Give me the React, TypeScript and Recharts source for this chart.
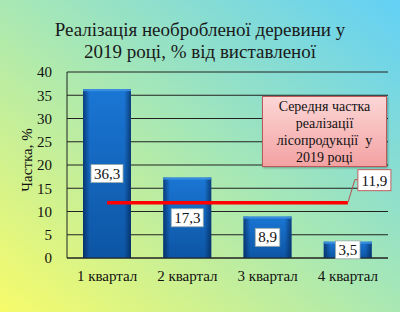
import {
	Bar,
	ComposedChart,
	LabelList,
	Line,
	XAxis,
	YAxis,
	CartesianGrid,
} from "recharts";

const quarters = ["1 квартал", "2 квартал", "3 квартал", "4 квартал"];
const shares = [36.3, 17.3, 8.9, 3.5];
const average = [11.9, 11.9, 11.9, 11.9];
const yTicks = [0, 5, 10, 15, 20, 25, 30, 35, 40];

const data = quarters.map((q, i) => ({
	name: q,
	share: shares[i],
	avg: average[i],
}));

const FONT = '"Liberation Serif", serif';
const fmt = (v: number) => String(v).replace(".", ",");

const BarShape = (props: any) => {
	const { x, y, width, height } = props;
	return (
		<g>
			<rect x={x} y={y} width={width} height={height} fill="url(#barFill)" />
			<rect x={x} y={y} width={width} height={height} fill="url(#barEdge)" />
			<rect x={x} y={y} width={width} height={2} fill="#3a8ee0" />
		</g>
	);
};

const BarValue = (props: any) => {
	const { x, y, width, height, value } = props;
	const cx = x + width / 2;
	const cy = y + height / 2;
	const text = fmt(value);
	const w = text.length * 7.5 + 2;
	return (
		<g>
			<rect
				x={cx - w / 2}
				y={cy - 9}
				width={w}
				height={18}
				fill="#fff"
				stroke="#9aa"
				strokeWidth={0.8}
			/>
			<text
				x={cx}
				y={cy + 5}
				textAnchor="middle"
				style={{ fontFamily: FONT, fontSize: 15 }}
				fill="#111"
			>
				{text}
			</text>
		</g>
	);
};

const AvgValue = (props: any) => {
	const { x, y, value, index } = props;
	if (index !== quarters.length - 1) return null;
	const text = fmt(value);
	const bx = x + 10;
	const by = y - 33;
	return (
		<g>
			<polyline
				points={`${x},${y} ${x + 7},${y - 23} ${bx},${y - 23}`}
				fill="none"
				stroke="#b05050"
				strokeWidth={1}
			/>
			<rect
				x={bx}
				y={by}
				width={33}
				height={21}
				fill="#fff"
				stroke="#c06060"
				strokeWidth={1}
			/>
			<text
				x={bx + 16.5}
				y={by + 16}
				textAnchor="middle"
				style={{ fontFamily: FONT, fontSize: 15 }}
				fill="#111"
			>
				{text}
			</text>
		</g>
	);
};

const AxisTitle = (props: any) => {
	const { viewBox } = props;
	const cx = 27;
	const cy = viewBox.y + viewBox.height / 2 - 5;
	return (
		<text
			x={cx}
			y={cy}
			transform={`rotate(-90 ${cx} ${cy})`}
			textAnchor="middle"
			dominantBaseline="central"
			style={{ fontFamily: FONT, fontSize: 15 }}
			fill="#111"
		>
			Частка, %
		</text>
	);
};

const tickStyle = { fill: "#111", fontSize: 15, fontFamily: FONT };

const App = () => {
	return (
		<div
			style={{
				position: "absolute",
				left: 0,
				top: 0,
				width: 400,
				height: 312,
				background:
					"linear-gradient(to top right, #f7fb6a 0%, #a9e8b3 50%, #62d0f6 100%)",
				fontFamily: FONT,
				overflow: "hidden",
			}}
		>
			<div
				style={{
					position: "absolute",
					top: 19,
					left: 0,
					width: 400,
					textAlign: "center",
					fontSize: 19,
					lineHeight: "22px",
					color: "#1a1a1a",
				}}
			>
				Реалізація необробленої деревини у
				<br />
				2019 році, % від виставленої
			</div>

			<ComposedChart
				width={400}
				height={312}
				data={data}
				margin={{ top: 72, right: 12, bottom: 24, left: 0 }}
				style={{ position: "absolute", left: 0, top: 0, fontFamily: FONT }}
			>
				<defs>
					<linearGradient id="barFill" x1="0" y1="0" x2="0" y2="1">
						<stop offset="0%" stopColor="#1a76d4" />
						<stop offset="100%" stopColor="#0d55a4" />
					</linearGradient>
					<linearGradient id="barEdge" x1="0" y1="0" x2="1" y2="0">
						<stop offset="0%" stopColor="#021a40" stopOpacity={0.6} />
						<stop offset="14%" stopColor="#021a40" stopOpacity={0} />
						<stop offset="86%" stopColor="#021a40" stopOpacity={0} />
						<stop offset="100%" stopColor="#021a40" stopOpacity={0.6} />
					</linearGradient>
				</defs>
				<CartesianGrid vertical={false} stroke="#222" strokeWidth={1} />
				<XAxis
					dataKey="name"
					axisLine={{ stroke: "#222" }}
					tickLine={false}
					tickSize={0}
					tickMargin={12}
					height={30}
					tick={tickStyle}
				/>
				<YAxis
					domain={[0, 40]}
					ticks={yTicks}
					interval={0}
					width={67}
					axisLine={{ stroke: "#222" }}
					tickLine={false}
					tickSize={0}
					tickMargin={15}
					tick={tickStyle}
					label={<AxisTitle />}
				/>
				<Bar
					dataKey="share"
					barSize={48}
					shape={<BarShape />}
					isAnimationActive={false}
				>
					<LabelList dataKey="share" content={<BarValue />} />
				</Bar>
				<Line
					dataKey="avg"
					stroke="#ff0000"
					strokeWidth={3.5}
					dot={false}
					activeDot={false}
					isAnimationActive={false}
				>
					<LabelList dataKey="avg" content={<AvgValue />} />
				</Line>
			</ComposedChart>

			<div
				style={{
					position: "absolute",
					left: 262,
					top: 96,
					width: 123,
					height: 68,
					background: "linear-gradient(to bottom, #fcd6d6, #f3a2a2)",
					border: "1px solid #b85a5a",
					boxShadow: "1px 1px 2px rgba(0,0,0,0.3)",
					textAlign: "center",
					fontSize: 14,
					lineHeight: "17px",
					color: "#111",
					paddingTop: 1,
				}}
			>
				Середня частка
				<br />
				реалізації
				<br />
				лісопродукції&nbsp; у
				<br />
				2019 році
			</div>
		</div>
	);
};

export default App;
